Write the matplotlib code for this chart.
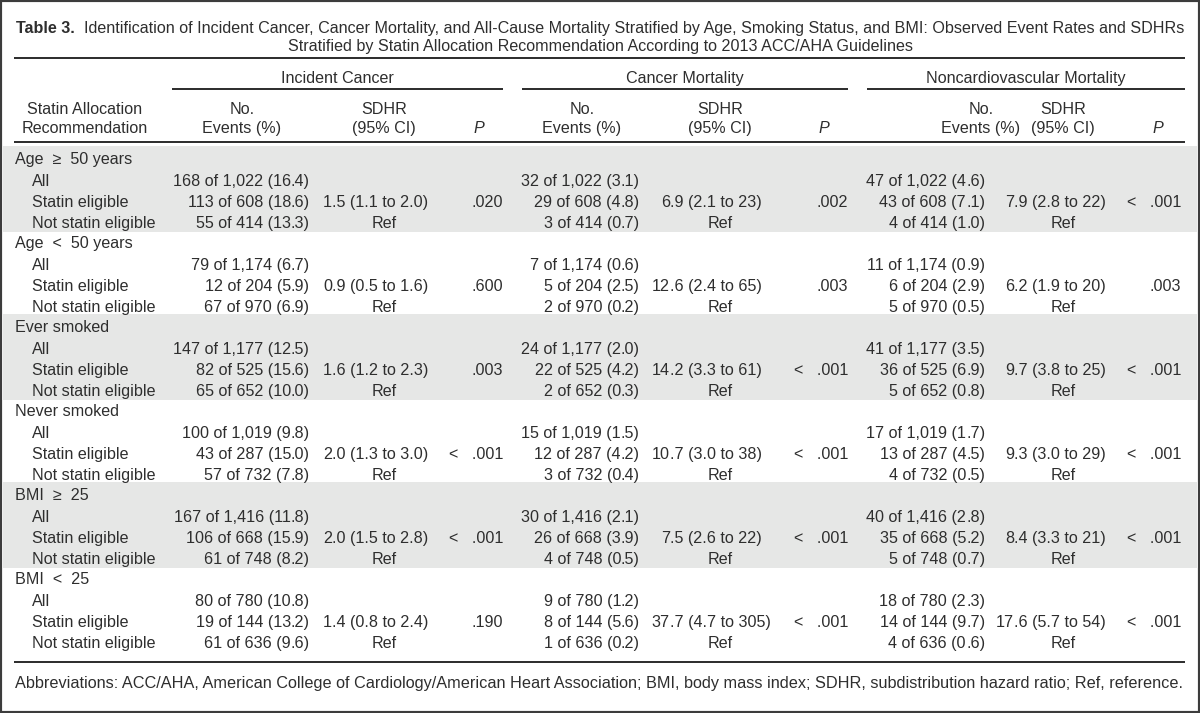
import matplotlib
matplotlib.use('Agg')
import matplotlib.pyplot as plt
from matplotlib.patches import Rectangle

plt.rcParams['font.family'] = ['Liberation Sans', 'DejaVu Sans']

# table content
title_bold = "Table 3."
title_line1 = ("Identification of Incident Cancer, Cancer Mortality, and All-Cause Mortality "
               "Stratified by Age, Smoking Status, and BMI: Observed Event Rates and SDHRs")
title_line2 = "Stratified by Statin Allocation Recommendation According to 2013 ACC/AHA Guidelines"
outcomes = ["Incident Cancer", "Cancer Mortality", "Noncardiovascular Mortality"]
groups = ["Age \u2265 50 years", "Age < 50 years", "Ever smoked", "Never smoked",
          "BMI \u2265 25", "BMI < 25"]
subrows = ["All", "Statin eligible", "Not statin eligible"]

incident_events = [
    ["168 of 1,022 (16.4)", "113 of 608 (18.6)", "55 of 414 (13.3)"],
    ["79 of 1,174 (6.7)", "12 of 204 (5.9)", "67 of 970 (6.9)"],
    ["147 of 1,177 (12.5)", "82 of 525 (15.6)", "65 of 652 (10.0)"],
    ["100 of 1,019 (9.8)", "43 of 287 (15.0)", "57 of 732 (7.8)"],
    ["167 of 1,416 (11.8)", "106 of 668 (15.9)", "61 of 748 (8.2)"],
    ["80 of 780 (10.8)", "19 of 144 (13.2)", "61 of 636 (9.6)"]]
incident_sdhr = ["1.5 (1.1 to 2.0)", "0.9 (0.5 to 1.6)", "1.6 (1.2 to 2.3)",
                 "2.0 (1.3 to 3.0)", "2.0 (1.5 to 2.8)", "1.4 (0.8 to 2.4)"]
incident_p = [".020", ".600", ".003", "< .001", "< .001", ".190"]

cancer_events = [
    ["32 of 1,022 (3.1)", "29 of 608 (4.8)", "3 of 414 (0.7)"],
    ["7 of 1,174 (0.6)", "5 of 204 (2.5)", "2 of 970 (0.2)"],
    ["24 of 1,177 (2.0)", "22 of 525 (4.2)", "2 of 652 (0.3)"],
    ["15 of 1,019 (1.5)", "12 of 287 (4.2)", "3 of 732 (0.4)"],
    ["30 of 1,416 (2.1)", "26 of 668 (3.9)", "4 of 748 (0.5)"],
    ["9 of 780 (1.2)", "8 of 144 (5.6)", "1 of 636 (0.2)"]]
cancer_sdhr = ["6.9 (2.1 to 23)", "12.6 (2.4 to 65)", "14.2 (3.3 to 61)",
               "10.7 (3.0 to 38)", "7.5 (2.6 to 22)", "37.7 (4.7 to 305)"]
cancer_p = [".002", ".003", "< .001", "< .001", "< .001", "< .001"]

noncv_events = [
    ["47 of 1,022 (4.6)", "43 of 608 (7.1)", "4 of 414 (1.0)"],
    ["11 of 1,174 (0.9)", "6 of 204 (2.9)", "5 of 970 (0.5)"],
    ["41 of 1,177 (3.5)", "36 of 525 (6.9)", "5 of 652 (0.8)"],
    ["17 of 1,019 (1.7)", "13 of 287 (4.5)", "4 of 732 (0.5)"],
    ["40 of 1,416 (2.8)", "35 of 668 (5.2)", "5 of 748 (0.7)"],
    ["18 of 780 (2.3)", "14 of 144 (9.7)", "4 of 636 (0.6)"]]
noncv_sdhr = ["7.9 (2.8 to 22)", "6.2 (1.9 to 20)", "9.7 (3.8 to 25)",
              "9.3 (3.0 to 29)", "8.4 (3.3 to 21)", "17.6 (5.7 to 54)"]
noncv_p = ["< .001", ".003", "< .001", "< .001", "< .001", "< .001"]

footnote = ("Abbreviations: ACC/AHA, American College of Cardiology/American Heart Association; "
            "BMI, body mass index; SDHR, subdistribution hazard ratio; Ref, reference.")

# layout (pixel units)
FS = 11.6
TXT = '#2e2e2e'
GREY = '#e6e7e6'
# per outcome: (events decimal x, events header x, sdhr decimal x, sdhr header x, p right x, p header x, rule span)
cols = [
    (291, 242, 332, 384, 503, 479, (172, 503)),
    (621, 582, 670, 720, 848, 824, (522, 848)),
    (966, 981, 1014, 1063, 1181, 1158, (867, 1185)),
]
data = [(incident_events, incident_sdhr, incident_p),
        (cancer_events, cancer_sdhr, cancer_p),
        (noncv_events, noncv_sdhr, noncv_p)]

fig = plt.figure(figsize=(12, 7.13), dpi=100)
ax = fig.add_axes([0, 0, 1, 1])
ax.set_xlim(0, 1200)
ax.set_ylim(713, 0)
ax.axis('off')

def txt(x, y, s, ha='left', **kw):
    # y is the visual centre of a text line; draw on baseline
    return ax.text(x, y + 5.8, s, ha=ha, va='baseline', fontsize=kw.pop('fontsize', FS),
                   color=kw.pop('color', TXT), **kw)

# title
renderer = fig.canvas.get_renderer()
tb = txt(0, 27, title_bold + "  ", fontweight='bold')
tr = txt(0, 27, title_line1)
wb = tb.get_window_extent(renderer).width
wr = tr.get_window_extent(renderer).width
x0 = 600 - (wb + wr) / 2
tb.set_x(x0)
tr.set_x(x0 + wb)
txt(600, 45, title_line2, ha='center')

rule_kw = dict(color='#1a1a1a', lw=1.3, solid_capstyle='butt')
ax.plot([14, 1185], [58, 58], **rule_kw)
ax.plot([14, 1185], [142, 142], **rule_kw)
ax.plot([14, 1185], [662, 662], **rule_kw)

# column headers
txt(85, 108, "Statin Allocation", ha='center')
txt(85, 127, "Recommendation", ha='center')
for k, name in enumerate(outcomes):
    ex, exh, sx, sxh, px, pxh, span = cols[k]
    mid = (span[0] + span[1]) / 2
    txt(mid, 77, name, ha='center')
    ax.plot(span, [89, 89], **rule_kw)
    txt(exh, 108, "No.", ha='center')
    txt(exh, 127, "Events (%)", ha='center')
    txt(sxh, 108, "SDHR", ha='center')
    txt(sxh, 127, "(95% CI)", ha='center')
    txt(pxh, 127, "P", ha='center', fontstyle='italic')

# body
block_h = 84
offsets = [22.5, 43, 64]
for i, g in enumerate(groups):
    y0 = 158 + block_h * i
    if i % 2 == 0:
        ax.add_patch(Rectangle((3, 146 + block_h * i), 1194, 85.5, color=GREY, lw=0, zorder=0))
    txt(15, y0, g.replace(' \u2265 ', '  \u2265  ').replace(' < ', '  <  '))
    for j, lab in enumerate(subrows):
        txt(32, y0 + offsets[j], lab)
    for k in range(3):
        events, sdhr, pv = data[k]
        ex, exh, sx, sxh, px, pxh, span = cols[k]
        for j in range(3):
            s = events[i][j]
            d = s.rfind('.')
            txt(ex, y0 + offsets[j], s[:d], ha='right')
            txt(ex, y0 + offsets[j], s[d:], ha='left')
        s = sdhr[i]
        d = s.find('.')
        txt(sx, y0 + offsets[1], s[:d], ha='right')
        txt(sx, y0 + offsets[1], s[d:], ha='left')
        txt(sxh, y0 + offsets[2], "Ref", ha='center')
        txt(px, y0 + offsets[1], pv[i].replace('< ', '<   '), ha='right')

txt(15, 682, footnote, fontsize=11.7)

# outer frame
ax.add_patch(Rectangle((0, 0), 1200, 713, fill=False, ec='#3c3c3c', lw=3, clip_on=False))

fig.savefig('out.png', dpi=100)
